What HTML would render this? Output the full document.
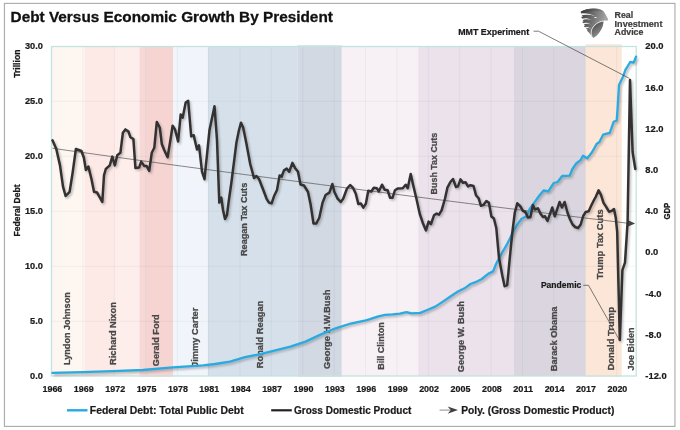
<!DOCTYPE html>
<html lang="en"><head><meta charset="utf-8"><title>Debt Versus Economic Growth By President</title>
<style>html,body{margin:0;padding:0;background:#fff}body{width:680px;height:430px;overflow:hidden}</style>
</head><body>
<svg width="680" height="430" viewBox="0 0 680 430" style="display:block;will-change:transform;opacity:0.999">
<defs><filter id="sh" x="-5%" y="-5%" width="110%" height="110%"><feGaussianBlur stdDeviation="0.9"/></filter></defs>
<rect x="0" y="0" width="680" height="430" fill="#ffffff"/>
<rect x="4.45" y="3.4" width="670.5" height="423" fill="#ffffff" stroke="#adadad" stroke-width="1.15"/>
<rect x="51.5" y="46.5" width="33.2" height="329.5" fill="#fef6f0"/>
<rect x="84.7" y="46.5" width="54.7" height="329.5" fill="#fde9e6"/>
<rect x="139.4" y="46.5" width="33.6" height="330.2" fill="#f5d4d2"/>
<rect x="173.0" y="46.5" width="34.8" height="329.5" fill="#f1f5fb"/>
<rect x="207.8" y="46.5" width="89.8" height="329.5" fill="#d6e0ea"/>
<rect x="297.6" y="45.3" width="44.2" height="331.4" fill="#d2d9e3"/>
<rect x="341.8" y="46.5" width="76.4" height="329.5" fill="#f7f1f6"/>
<rect x="418.2" y="46.5" width="95.8" height="329.5" fill="#ebe2ec"/>
<rect x="514.0" y="46.5" width="71.6" height="329.5" fill="#dad5de"/>
<rect x="585.6" y="44.2" width="36.1" height="332.5" fill="#fce6d8"/>
<rect x="114.4" y="46.5" width="25" height="329.5" fill="#ffffff" fill-opacity="0.22"/>
<rect x="139.4" y="46.5" width="7.3" height="330.2" fill="#ffffff" fill-opacity="0.10"/>
<g stroke="#5f7f90" stroke-opacity="0.085" stroke-width="0.9"><line x1="51.5" y1="101.4" x2="636.2" y2="101.4"/><line x1="51.5" y1="156.4" x2="636.2" y2="156.4"/><line x1="51.5" y1="211.4" x2="636.2" y2="211.4"/><line x1="51.5" y1="266.4" x2="636.2" y2="266.4"/><line x1="51.5" y1="321.4" x2="636.2" y2="321.4"/><line x1="83.0" y1="46.5" x2="83.0" y2="376.0"/><line x1="114.4" y1="46.5" x2="114.4" y2="376.0"/><line x1="145.8" y1="46.5" x2="145.8" y2="376.0"/><line x1="177.2" y1="46.5" x2="177.2" y2="376.0"/><line x1="208.6" y1="46.5" x2="208.6" y2="376.0"/><line x1="240.0" y1="46.5" x2="240.0" y2="376.0"/><line x1="271.4" y1="46.5" x2="271.4" y2="376.0"/><line x1="302.8" y1="46.5" x2="302.8" y2="376.0"/><line x1="334.2" y1="46.5" x2="334.2" y2="376.0"/><line x1="365.5" y1="46.5" x2="365.5" y2="376.0"/><line x1="396.9" y1="46.5" x2="396.9" y2="376.0"/><line x1="428.3" y1="46.5" x2="428.3" y2="376.0"/><line x1="459.7" y1="46.5" x2="459.7" y2="376.0"/><line x1="491.1" y1="46.5" x2="491.1" y2="376.0"/><line x1="522.5" y1="46.5" x2="522.5" y2="376.0"/><line x1="553.9" y1="46.5" x2="553.9" y2="376.0"/><line x1="585.3" y1="46.5" x2="585.3" y2="376.0"/><line x1="616.7" y1="46.5" x2="616.7" y2="376.0"/></g>
<rect x="51.5" y="46.5" width="584.7" height="329.5" fill="none" stroke="#c2e4e1" stroke-width="1.3"/>
<g font-family="Liberation Sans, Arial, sans-serif" font-weight="bold">
<text transform="translate(70.0,364.9) rotate(-90)" x="0" y="0" font-size="9.1" fill="#484848" stroke="#484848" stroke-width="0.28" textLength="72.6" lengthAdjust="spacingAndGlyphs">Lyndon Johnson</text>
<text transform="translate(116.1,364.9) rotate(-90)" x="0" y="0" font-size="9.1" fill="#484848" stroke="#484848" stroke-width="0.28" textLength="62.7" lengthAdjust="spacingAndGlyphs">Richard Nixon</text>
<text transform="translate(159.1,366.2) rotate(-90)" x="0" y="0" font-size="9.1" fill="#484848" stroke="#484848" stroke-width="0.28" textLength="51.9" lengthAdjust="spacingAndGlyphs">Gerald Ford</text>
<text transform="translate(198.0,367.0) rotate(-90)" x="0" y="0" font-size="9.1" fill="#484848" stroke="#484848" stroke-width="0.28" textLength="59.3" lengthAdjust="spacingAndGlyphs">Jimmy Carter</text>
<text transform="translate(263.2,368.2) rotate(-90)" x="0" y="0" font-size="9.1" fill="#484848" stroke="#484848" stroke-width="0.28" textLength="67.5" lengthAdjust="spacingAndGlyphs">Ronald Reagan</text>
<text transform="translate(329.6,368.9) rotate(-90)" x="0" y="0" font-size="9.1" fill="#484848" stroke="#484848" stroke-width="0.28" textLength="79.5" lengthAdjust="spacingAndGlyphs">George H.W.Bush</text>
<text transform="translate(383.7,369.8) rotate(-90)" x="0" y="0" font-size="9.1" fill="#484848" stroke="#484848" stroke-width="0.28" textLength="47.6" lengthAdjust="spacingAndGlyphs">Bill Clinton</text>
<text transform="translate(464.1,372.2) rotate(-90)" x="0" y="0" font-size="9.1" fill="#484848" stroke="#484848" stroke-width="0.28" textLength="71.2" lengthAdjust="spacingAndGlyphs">George W. Bush</text>
<text transform="translate(557.0,371.2) rotate(-90)" x="0" y="0" font-size="9.1" fill="#484848" stroke="#484848" stroke-width="0.28" textLength="64.7" lengthAdjust="spacingAndGlyphs">Barack Obama</text>
<text transform="translate(613.5,370.6) rotate(-90)" x="0" y="0" font-size="9.1" fill="#484848" stroke="#484848" stroke-width="0.28" textLength="63.6" lengthAdjust="spacingAndGlyphs">Donald Trump</text>
<text transform="translate(634.1,370.6) rotate(-90)" x="0" y="0" font-size="9.1" fill="#484848" stroke="#484848" stroke-width="0.28" textLength="43" lengthAdjust="spacingAndGlyphs">Joe Biden</text>
<text transform="translate(246.6,256.0) rotate(-90)" x="0" y="0" font-size="9.1" fill="#484848" stroke="#484848" stroke-width="0.28" textLength="73.2" lengthAdjust="spacingAndGlyphs">Reagan Tax Cuts</text>
<text transform="translate(436.6,194.4) rotate(-90)" x="0" y="0" font-size="9.1" fill="#484848" stroke="#484848" stroke-width="0.28" textLength="61.6" lengthAdjust="spacingAndGlyphs">Bush Tax Cuts</text>
<text transform="translate(602.6,279.2) rotate(-90)" x="0" y="0" font-size="9.1" fill="#484848" stroke="#484848" stroke-width="0.28" textLength="69.8" lengthAdjust="spacingAndGlyphs">Trump Tax Cuts</text>
</g>
<path d="M52.5,148.3 Q300,183.2 629,223.4" fill="none" stroke="#555" stroke-width="0.7"/>
<path d="M635.1,223.4 L627.6,220.0 L627.6,226.8 Z" fill="#454545"/>
<path d="M52.5,372.9 L82.7,372.2 L112.8,371.2 L143.0,370.0 L173.0,367.4 L203.3,365.4 L215.0,364.0 L230.0,361.7 L245.0,357.2 L260.2,354.2 L275.3,350.4 L290.4,346.6 L305.5,341.6 L320.5,334.6 L335.6,328.3 L350.7,323.5 L365.8,320.3 L370.0,319.1 L377.5,316.6 L385.0,314.9 L392.6,314.4 L400.0,313.6 L406.4,312.1 L411.5,313.4 L420.3,312.9 L427.8,309.8 L435.3,306.6 L442.9,301.6 L450.4,296.5 L457.9,291.5 L465.5,287.7 L470.5,284.0 L475.5,282.2 L481.8,279.0 L488.1,273.9 L493.1,271.4 L495.6,265.1 L499.4,257.6 L502.8,251.5 L506.5,245.2 L510.3,237.7 L514.0,230.0 L517.8,223.9 L521.6,218.8 L526.6,216.3 L529.7,209.0 L534.3,202.6 L539.0,196.0 L543.6,190.5 L548.3,191.4 L553.8,183.0 L557.6,182.0 L562.2,176.0 L569.7,175.6 L572.4,169.0 L576.2,163.5 L580.8,159.8 L583.0,155.7 L587.3,158.3 L592.0,152.3 L596.6,144.0 L599.4,142.0 L603.1,134.7 L609.7,132.8 L611.2,128.9 L613.6,121.8 L616.7,120.6 L617.6,108.7 L619.0,85.0 L620.7,81.5 L623.0,76.7 L625.5,69.6 L627.8,66.0 L630.2,62.0 L633.7,62.5 L636.1,56.6" transform="translate(1.5,1.6)" fill="none" stroke="#444" stroke-opacity="0.38" stroke-width="2.3" stroke-linejoin="round" filter="url(#sh)"/>
<path d="M52.5,372.9 L82.7,372.2 L112.8,371.2 L143.0,370.0 L173.0,367.4 L203.3,365.4 L215.0,364.0 L230.0,361.7 L245.0,357.2 L260.2,354.2 L275.3,350.4 L290.4,346.6 L305.5,341.6 L320.5,334.6 L335.6,328.3 L350.7,323.5 L365.8,320.3 L370.0,319.1 L377.5,316.6 L385.0,314.9 L392.6,314.4 L400.0,313.6 L406.4,312.1 L411.5,313.4 L420.3,312.9 L427.8,309.8 L435.3,306.6 L442.9,301.6 L450.4,296.5 L457.9,291.5 L465.5,287.7 L470.5,284.0 L475.5,282.2 L481.8,279.0 L488.1,273.9 L493.1,271.4 L495.6,265.1 L499.4,257.6 L502.8,251.5 L506.5,245.2 L510.3,237.7 L514.0,230.0 L517.8,223.9 L521.6,218.8 L526.6,216.3 L529.7,209.0 L534.3,202.6 L539.0,196.0 L543.6,190.5 L548.3,191.4 L553.8,183.0 L557.6,182.0 L562.2,176.0 L569.7,175.6 L572.4,169.0 L576.2,163.5 L580.8,159.8 L583.0,155.7 L587.3,158.3 L592.0,152.3 L596.6,144.0 L599.4,142.0 L603.1,134.7 L609.7,132.8 L611.2,128.9 L613.6,121.8 L616.7,120.6 L617.6,108.7 L619.0,85.0 L620.7,81.5 L623.0,76.7 L625.5,69.6 L627.8,66.0 L630.2,62.0 L633.7,62.5 L636.1,56.6" fill="none" stroke="#29abe2" stroke-width="2.3" stroke-linejoin="round" stroke-linecap="round"/>
<path d="M52.5,140.3 L56.3,149.0 L60.0,165.4 L63.0,186.7 L65.6,196.0 L69.6,191.8 L72.6,173.0 L75.9,149.0 L81.4,151.0 L83.9,157.8 L85.9,170.0 L88.4,166.6 L91.5,179.2 L94.0,191.8 L97.0,192.5 L99.5,196.8 L102.3,202.0 L104.0,175.4 L105.8,169.0 L109.8,165.4 L112.3,156.6 L114.8,165.4 L117.3,155.3 L120.4,152.8 L122.9,132.7 L125.4,129.4 L128.4,131.5 L130.4,137.2 L133.4,139.0 L135.4,167.9 L139.2,167.4 L141.2,161.6 L144.2,165.9 L146.7,166.1 L149.2,170.9 L151.8,152.8 L154.3,147.8 L156.8,121.9 L159.8,127.7 L161.8,144.0 L164.3,150.3 L167.6,157.3 L170.6,139.0 L172.6,125.7 L175.1,129.7 L178.1,141.5 L180.7,114.4 L182.7,117.6 L185.7,102.6 L188.2,100.8 L191.2,136.5 L193.7,135.2 L197.0,149.5 L199.0,145.3 L202.0,171.7 L204.5,179.2 L209.5,130.0 L214.5,106.3 L217.0,140.0 L219.3,202.6 L221.3,197.6 L223.0,210.0 L225.0,219.0 L227.0,215.0 L228.9,200.0 L231.4,182.5 L232.6,173.0 L236.4,142.8 L239.0,130.0 L241.0,122.7 L243.2,127.7 L246.5,144.0 L250.2,164.0 L254.0,178.0 L256.5,176.0 L259.0,179.0 L262.8,188.8 L266.6,198.8 L269.0,202.6 L271.6,203.4 L274.0,196.3 L277.0,190.0 L279.6,175.4 L281.6,176.7 L284.0,170.4 L286.7,168.6 L289.2,171.7 L292.4,162.9 L295.0,167.9 L298.0,171.7 L300.5,184.5 L304.0,185.5 L308.0,192.0 L310.5,203.9 L313.5,223.5 L316.3,223.5 L319.3,217.7 L322.6,202.6 L325.6,195.0 L329.4,192.6 L332.4,184.0 L334.4,192.0 L337.4,198.3 L340.7,202.0 L343.2,198.8 L347.0,188.5 L350.2,185.0 L353.2,188.2 L355.8,193.8 L358.3,203.9 L360.8,203.4 L363.3,207.6 L365.8,203.9 L368.3,190.7 L371.3,191.5 L373.8,187.7 L376.8,188.2 L378.8,191.5 L382.0,184.7 L384.6,189.7 L387.6,190.2 L390.0,197.7 L392.6,197.7 L395.0,190.2 L398.0,188.4 L402.7,188.2 L405.7,184.7 L407.7,188.2 L410.7,173.9 L413.2,185.2 L416.5,199.0 L419.8,214.0 L422.8,222.9 L426.0,230.4 L428.6,221.6 L431.0,224.0 L434.0,215.3 L436.6,213.6 L439.0,214.6 L441.6,210.3 L444.9,199.0 L447.4,187.7 L450.4,182.0 L453.0,179.0 L456.0,187.0 L458.0,186.4 L460.5,179.4 L463.0,182.7 L465.5,182.2 L468.0,186.4 L470.5,185.2 L473.5,186.0 L476.0,195.2 L478.6,198.2 L481.0,205.8 L483.6,204.8 L486.4,201.0 L488.9,202.8 L491.4,216.5 L493.9,218.5 L496.3,228.0 L499.0,257.8 L502.3,275.4 L504.6,286.2 L507.2,285.0 L509.8,257.8 L512.3,232.7 L514.8,212.6 L517.3,203.3 L520.4,206.3 L522.9,210.8 L525.4,212.0 L527.9,217.6 L530.4,217.0 L532.9,205.0 L534.9,209.5 L537.9,208.3 L540.5,213.8 L543.0,217.0 L545.0,216.3 L547.5,220.9 L550.0,213.8 L552.3,207.5 L554.8,216.3 L557.3,208.8 L559.6,202.0 L562.0,207.5 L564.6,202.0 L567.6,213.0 L570.1,219.5 L572.6,224.5 L575.1,227.0 L578.1,228.1 L580.7,224.5 L583.2,216.0 L585.7,212.0 L588.7,211.3 L591.5,205.0 L594.0,200.0 L595.9,196.6 L598.6,190.3 L601.0,194.8 L603.5,202.9 L606.0,206.6 L609.0,211.7 L611.5,210.9 L614.0,209.0 L615.8,218.0 L617.2,232.0 L619.8,340.0 L622.4,270.2 L625.0,262.7 L627.6,222.0 L630.0,80.0 L632.6,152.0 L635.3,169.0" transform="translate(1.5,1.6)" fill="none" stroke="#444" stroke-opacity="0.38" stroke-width="2.3" stroke-linejoin="round" filter="url(#sh)"/>
<path d="M52.5,140.3 L56.3,149.0 L60.0,165.4 L63.0,186.7 L65.6,196.0 L69.6,191.8 L72.6,173.0 L75.9,149.0 L81.4,151.0 L83.9,157.8 L85.9,170.0 L88.4,166.6 L91.5,179.2 L94.0,191.8 L97.0,192.5 L99.5,196.8 L102.3,202.0 L104.0,175.4 L105.8,169.0 L109.8,165.4 L112.3,156.6 L114.8,165.4 L117.3,155.3 L120.4,152.8 L122.9,132.7 L125.4,129.4 L128.4,131.5 L130.4,137.2 L133.4,139.0 L135.4,167.9 L139.2,167.4 L141.2,161.6 L144.2,165.9 L146.7,166.1 L149.2,170.9 L151.8,152.8 L154.3,147.8 L156.8,121.9 L159.8,127.7 L161.8,144.0 L164.3,150.3 L167.6,157.3 L170.6,139.0 L172.6,125.7 L175.1,129.7 L178.1,141.5 L180.7,114.4 L182.7,117.6 L185.7,102.6 L188.2,100.8 L191.2,136.5 L193.7,135.2 L197.0,149.5 L199.0,145.3 L202.0,171.7 L204.5,179.2 L209.5,130.0 L214.5,106.3 L217.0,140.0 L219.3,202.6 L221.3,197.6 L223.0,210.0 L225.0,219.0 L227.0,215.0 L228.9,200.0 L231.4,182.5 L232.6,173.0 L236.4,142.8 L239.0,130.0 L241.0,122.7 L243.2,127.7 L246.5,144.0 L250.2,164.0 L254.0,178.0 L256.5,176.0 L259.0,179.0 L262.8,188.8 L266.6,198.8 L269.0,202.6 L271.6,203.4 L274.0,196.3 L277.0,190.0 L279.6,175.4 L281.6,176.7 L284.0,170.4 L286.7,168.6 L289.2,171.7 L292.4,162.9 L295.0,167.9 L298.0,171.7 L300.5,184.5 L304.0,185.5 L308.0,192.0 L310.5,203.9 L313.5,223.5 L316.3,223.5 L319.3,217.7 L322.6,202.6 L325.6,195.0 L329.4,192.6 L332.4,184.0 L334.4,192.0 L337.4,198.3 L340.7,202.0 L343.2,198.8 L347.0,188.5 L350.2,185.0 L353.2,188.2 L355.8,193.8 L358.3,203.9 L360.8,203.4 L363.3,207.6 L365.8,203.9 L368.3,190.7 L371.3,191.5 L373.8,187.7 L376.8,188.2 L378.8,191.5 L382.0,184.7 L384.6,189.7 L387.6,190.2 L390.0,197.7 L392.6,197.7 L395.0,190.2 L398.0,188.4 L402.7,188.2 L405.7,184.7 L407.7,188.2 L410.7,173.9 L413.2,185.2 L416.5,199.0 L419.8,214.0 L422.8,222.9 L426.0,230.4 L428.6,221.6 L431.0,224.0 L434.0,215.3 L436.6,213.6 L439.0,214.6 L441.6,210.3 L444.9,199.0 L447.4,187.7 L450.4,182.0 L453.0,179.0 L456.0,187.0 L458.0,186.4 L460.5,179.4 L463.0,182.7 L465.5,182.2 L468.0,186.4 L470.5,185.2 L473.5,186.0 L476.0,195.2 L478.6,198.2 L481.0,205.8 L483.6,204.8 L486.4,201.0 L488.9,202.8 L491.4,216.5 L493.9,218.5 L496.3,228.0 L499.0,257.8 L502.3,275.4 L504.6,286.2 L507.2,285.0 L509.8,257.8 L512.3,232.7 L514.8,212.6 L517.3,203.3 L520.4,206.3 L522.9,210.8 L525.4,212.0 L527.9,217.6 L530.4,217.0 L532.9,205.0 L534.9,209.5 L537.9,208.3 L540.5,213.8 L543.0,217.0 L545.0,216.3 L547.5,220.9 L550.0,213.8 L552.3,207.5 L554.8,216.3 L557.3,208.8 L559.6,202.0 L562.0,207.5 L564.6,202.0 L567.6,213.0 L570.1,219.5 L572.6,224.5 L575.1,227.0 L578.1,228.1 L580.7,224.5 L583.2,216.0 L585.7,212.0 L588.7,211.3 L591.5,205.0 L594.0,200.0 L595.9,196.6 L598.6,190.3 L601.0,194.8 L603.5,202.9 L606.0,206.6 L609.0,211.7 L611.5,210.9 L614.0,209.0 L615.8,218.0 L617.2,232.0 L619.8,340.0 L622.4,270.2 L625.0,262.7 L627.6,222.0 L630.0,80.0 L632.6,152.0 L635.3,169.0" fill="none" stroke="#333131" stroke-width="2.5" stroke-linejoin="round" stroke-linecap="round"/>
<path d="M533.5,31.2 L538.5,31.2 L629.5,78.4" fill="none" stroke="#444" stroke-width="0.7"/>
<path d="M583.2,285.3 L588.5,285.3 L619.4,340" fill="none" stroke="#444" stroke-width="0.7"/>
<g font-family="Liberation Sans, Arial, sans-serif" font-weight="bold">
<text x="10.6" y="21.9" font-size="15.4" fill="#111" text-anchor="start" textLength="322.3" lengthAdjust="spacingAndGlyphs" stroke="#111" stroke-width="0.3">Debt Versus Economic Growth By President</text>
<text x="42.9" y="49.2" font-size="9.4" fill="#1a1a1a" text-anchor="end" textLength="18.0" lengthAdjust="spacingAndGlyphs"  stroke="#1a1a1a" stroke-width="0.22">30.0</text>
<text x="42.9" y="104.2" font-size="9.4" fill="#1a1a1a" text-anchor="end" textLength="18.0" lengthAdjust="spacingAndGlyphs"  stroke="#1a1a1a" stroke-width="0.22">25.0</text>
<text x="42.9" y="159.2" font-size="9.4" fill="#1a1a1a" text-anchor="end" textLength="18.0" lengthAdjust="spacingAndGlyphs"  stroke="#1a1a1a" stroke-width="0.22">20.0</text>
<text x="42.9" y="214.2" font-size="9.4" fill="#1a1a1a" text-anchor="end" textLength="18.0" lengthAdjust="spacingAndGlyphs"  stroke="#1a1a1a" stroke-width="0.22">15.0</text>
<text x="42.9" y="269.2" font-size="9.4" fill="#1a1a1a" text-anchor="end" textLength="18.0" lengthAdjust="spacingAndGlyphs"  stroke="#1a1a1a" stroke-width="0.22">10.0</text>
<text x="42.9" y="324.2" font-size="9.4" fill="#1a1a1a" text-anchor="end" textLength="12.9" lengthAdjust="spacingAndGlyphs"  stroke="#1a1a1a" stroke-width="0.22">5.0</text>
<text x="42.9" y="379.2" font-size="9.4" fill="#1a1a1a" text-anchor="end" textLength="12.9" lengthAdjust="spacingAndGlyphs"  stroke="#1a1a1a" stroke-width="0.22">0.0</text>
<text x="645.3" y="49.2" font-size="9.4" fill="#1a1a1a" text-anchor="start"  stroke="#1a1a1a" stroke-width="0.22">20.0</text>
<text x="645.3" y="90.5" font-size="9.4" fill="#1a1a1a" text-anchor="start"  stroke="#1a1a1a" stroke-width="0.22">16.0</text>
<text x="645.3" y="131.7" font-size="9.4" fill="#1a1a1a" text-anchor="start"  stroke="#1a1a1a" stroke-width="0.22">12.0</text>
<text x="645.3" y="172.9" font-size="9.4" fill="#1a1a1a" text-anchor="start"  stroke="#1a1a1a" stroke-width="0.22">8.0</text>
<text x="645.3" y="214.2" font-size="9.4" fill="#1a1a1a" text-anchor="start"  stroke="#1a1a1a" stroke-width="0.22">4.0</text>
<text x="645.3" y="255.4" font-size="9.4" fill="#1a1a1a" text-anchor="start"  stroke="#1a1a1a" stroke-width="0.22">0.0</text>
<text x="645.3" y="296.7" font-size="9.4" fill="#1a1a1a" text-anchor="start"  stroke="#1a1a1a" stroke-width="0.22">-4.0</text>
<text x="645.3" y="337.9" font-size="9.4" fill="#1a1a1a" text-anchor="start"  stroke="#1a1a1a" stroke-width="0.22">-8.0</text>
<text x="645.3" y="379.2" font-size="9.4" fill="#1a1a1a" text-anchor="start"  stroke="#1a1a1a" stroke-width="0.22">-12.0</text>
<text x="52.4" y="392.3" font-size="9.4" fill="#1a1a1a" text-anchor="middle" textLength="19.9" lengthAdjust="spacingAndGlyphs"  stroke="#1a1a1a" stroke-width="0.22">1966</text>
<text x="83.8" y="392.3" font-size="9.4" fill="#1a1a1a" text-anchor="middle" textLength="19.9" lengthAdjust="spacingAndGlyphs"  stroke="#1a1a1a" stroke-width="0.22">1969</text>
<text x="115.2" y="392.3" font-size="9.4" fill="#1a1a1a" text-anchor="middle" textLength="19.9" lengthAdjust="spacingAndGlyphs"  stroke="#1a1a1a" stroke-width="0.22">1972</text>
<text x="146.6" y="392.3" font-size="9.4" fill="#1a1a1a" text-anchor="middle" textLength="19.9" lengthAdjust="spacingAndGlyphs"  stroke="#1a1a1a" stroke-width="0.22">1975</text>
<text x="178.0" y="392.3" font-size="9.4" fill="#1a1a1a" text-anchor="middle" textLength="19.9" lengthAdjust="spacingAndGlyphs"  stroke="#1a1a1a" stroke-width="0.22">1978</text>
<text x="209.3" y="392.3" font-size="9.4" fill="#1a1a1a" text-anchor="middle" textLength="19.9" lengthAdjust="spacingAndGlyphs"  stroke="#1a1a1a" stroke-width="0.22">1981</text>
<text x="240.7" y="392.3" font-size="9.4" fill="#1a1a1a" text-anchor="middle" textLength="19.9" lengthAdjust="spacingAndGlyphs"  stroke="#1a1a1a" stroke-width="0.22">1984</text>
<text x="272.1" y="392.3" font-size="9.4" fill="#1a1a1a" text-anchor="middle" textLength="19.9" lengthAdjust="spacingAndGlyphs"  stroke="#1a1a1a" stroke-width="0.22">1987</text>
<text x="303.5" y="392.3" font-size="9.4" fill="#1a1a1a" text-anchor="middle" textLength="19.9" lengthAdjust="spacingAndGlyphs"  stroke="#1a1a1a" stroke-width="0.22">1990</text>
<text x="334.9" y="392.3" font-size="9.4" fill="#1a1a1a" text-anchor="middle" textLength="19.9" lengthAdjust="spacingAndGlyphs"  stroke="#1a1a1a" stroke-width="0.22">1993</text>
<text x="366.3" y="392.3" font-size="9.4" fill="#1a1a1a" text-anchor="middle" textLength="19.9" lengthAdjust="spacingAndGlyphs"  stroke="#1a1a1a" stroke-width="0.22">1996</text>
<text x="397.7" y="392.3" font-size="9.4" fill="#1a1a1a" text-anchor="middle" textLength="19.9" lengthAdjust="spacingAndGlyphs"  stroke="#1a1a1a" stroke-width="0.22">1999</text>
<text x="429.1" y="392.3" font-size="9.4" fill="#1a1a1a" text-anchor="middle" textLength="19.9" lengthAdjust="spacingAndGlyphs"  stroke="#1a1a1a" stroke-width="0.22">2002</text>
<text x="460.5" y="392.3" font-size="9.4" fill="#1a1a1a" text-anchor="middle" textLength="19.9" lengthAdjust="spacingAndGlyphs"  stroke="#1a1a1a" stroke-width="0.22">2005</text>
<text x="491.9" y="392.3" font-size="9.4" fill="#1a1a1a" text-anchor="middle" textLength="19.9" lengthAdjust="spacingAndGlyphs"  stroke="#1a1a1a" stroke-width="0.22">2008</text>
<text x="523.2" y="392.3" font-size="9.4" fill="#1a1a1a" text-anchor="middle" textLength="19.9" lengthAdjust="spacingAndGlyphs"  stroke="#1a1a1a" stroke-width="0.22">2011</text>
<text x="554.6" y="392.3" font-size="9.4" fill="#1a1a1a" text-anchor="middle" textLength="19.9" lengthAdjust="spacingAndGlyphs"  stroke="#1a1a1a" stroke-width="0.22">2014</text>
<text x="586.0" y="392.3" font-size="9.4" fill="#1a1a1a" text-anchor="middle" textLength="19.9" lengthAdjust="spacingAndGlyphs"  stroke="#1a1a1a" stroke-width="0.22">2017</text>
<text x="617.4" y="392.3" font-size="9.4" fill="#1a1a1a" text-anchor="middle" textLength="19.9" lengthAdjust="spacingAndGlyphs"  stroke="#1a1a1a" stroke-width="0.22">2020</text>
<text transform="translate(19.8,77.8) rotate(-90)" x="0" y="0" font-size="9.1" fill="#1a1a1a" stroke="#1a1a1a" stroke-width="0.28" textLength="28.2" lengthAdjust="spacingAndGlyphs">Trillion</text>
<text transform="translate(19.8,236.4) rotate(-90)" x="0" y="0" font-size="9.1" fill="#1a1a1a" stroke="#1a1a1a" stroke-width="0.28" textLength="52" lengthAdjust="spacingAndGlyphs">Federal Debt</text>
<text transform="translate(670.4,219.6) rotate(-90)" x="0" y="0" font-size="9.2" fill="#1a1a1a" stroke="#1a1a1a" stroke-width="0.28" textLength="16.8" lengthAdjust="spacingAndGlyphs">GDP</text>
<text x="458.2" y="35.4" font-size="9.2" fill="#1a1a1a" text-anchor="start" textLength="71" lengthAdjust="spacingAndGlyphs"  stroke="#1a1a1a" stroke-width="0.22">MMT Experiment</text>
<text x="540.9" y="288.3" font-size="9.2" fill="#1a1a1a" text-anchor="start" textLength="40.4" lengthAdjust="spacingAndGlyphs"  stroke="#1a1a1a" stroke-width="0.22">Pandemic</text>
<text x="89.8" y="413.6" font-size="10.2" fill="#1a1a1a" text-anchor="start" textLength="153.8" lengthAdjust="spacingAndGlyphs"  stroke="#1a1a1a" stroke-width="0.22">Federal Debt: Total Public Debt</text>
<text x="294" y="413.6" font-size="10.2" fill="#1a1a1a" text-anchor="start" textLength="117.3" lengthAdjust="spacingAndGlyphs"  stroke="#1a1a1a" stroke-width="0.22">Gross Domestic Product</text>
<text x="461.3" y="413.6" font-size="10.2" fill="#1a1a1a" text-anchor="start" textLength="153" lengthAdjust="spacingAndGlyphs"  stroke="#1a1a1a" stroke-width="0.22">Poly. (Gross Domestic Product)</text>
<text x="614.6" y="18.0" font-size="9.0" fill="#3c3c3c" text-anchor="start" textLength="18.6" lengthAdjust="spacingAndGlyphs"  stroke="#3c3c3c" stroke-width="0.22">Real</text>
<text x="614.6" y="26.8" font-size="9.0" fill="#3c3c3c" text-anchor="start" textLength="47.8" lengthAdjust="spacingAndGlyphs"  stroke="#3c3c3c" stroke-width="0.22">Investment</text>
<text x="614.6" y="35.3" font-size="9.0" fill="#3c3c3c" text-anchor="start" textLength="28.8" lengthAdjust="spacingAndGlyphs"  stroke="#3c3c3c" stroke-width="0.22">Advice</text>
</g>
<line x1="67" y1="410.3" x2="87.5" y2="410.3" stroke="#27a9e1" stroke-width="2.4"/>
<line x1="271.2" y1="410.3" x2="291.8" y2="410.3" stroke="#222" stroke-width="2.2"/>
<line x1="439.6" y1="410.1" x2="451" y2="410.1" stroke="#707070" stroke-width="0.8"/>
<path d="M458,410.1 L447.6,406.4 L450.8,410.1 L447.6,413.8 Z" fill="#404040"/>
<g transform="translate(576,6) scale(0.07905)">
<defs>
<linearGradient id="eg" x1="0" y1="0.2" x2="1" y2="0.5"><stop offset="0" stop-color="#3f3f3f"/><stop offset="0.5" stop-color="#787878"/><stop offset="1" stop-color="#b4b4b4"/></linearGradient>
<linearGradient id="sg" x1="0.2" y1="0" x2="0.7" y2="1"><stop offset="0" stop-color="#444444"/><stop offset="1" stop-color="#9c9c9c"/></linearGradient>
<linearGradient id="cg" x1="0" y1="0" x2="1" y2="0"><stop offset="0" stop-color="#3a3a3a"/><stop offset="1" stop-color="#6a6a6a" stop-opacity="0.3"/></linearGradient>
</defs>
<path d="M60,72 C110,45 170,32 230,33 C290,34 335,50 355,75 C370,100 395,140 407,165 C405,180 398,190 390,188 C380,184 365,184 350,188 C348,230 335,280 300,330 C275,365 245,392 215,406 C195,375 165,330 140,312 L146,300 C128,290 108,272 99,254 L114,250 C98,235 86,215 82,196 L98,196 C83,180 72,160 66,136 L88,140 C72,120 63,100 60,72 Z" fill="url(#eg)"/>
<path d="M60,72 C110,45 170,32 230,33 C290,34 335,50 355,75 C300,58 200,62 125,86 C100,92 78,88 60,72 Z" fill="url(#cg)"/>
<path d="M345,195 C290,200 235,235 205,300 C195,340 200,375 215,403 C250,385 285,350 310,310 C335,270 345,230 345,195 Z" fill="url(#sg)"/>
<path d="M350,190 C285,196 226,235 197,300 C186,340 193,378 213,405" fill="none" stroke="#ffffff" stroke-opacity="0.9" stroke-width="11"/>
<g fill="#ffffff" fill-opacity="0.92">
<path d="M52,96 C110,86 180,94 245,130 C180,108 115,106 60,124 Z"/>
<path d="M62,162 C110,148 155,152 204,180 C155,164 115,164 72,184 Z"/>
<path d="M78,218 C115,205 150,208 190,232 C150,219 120,220 88,240 Z"/>
<path d="M96,272 C130,259 158,264 190,286 C160,275 135,277 108,294 Z"/>
</g>
<ellipse cx="247" cy="146" rx="18" ry="6.5" transform="rotate(-8 247 146)" fill="#ffffff" fill-opacity="0.9"/>
</g>
</svg>
</body></html>
